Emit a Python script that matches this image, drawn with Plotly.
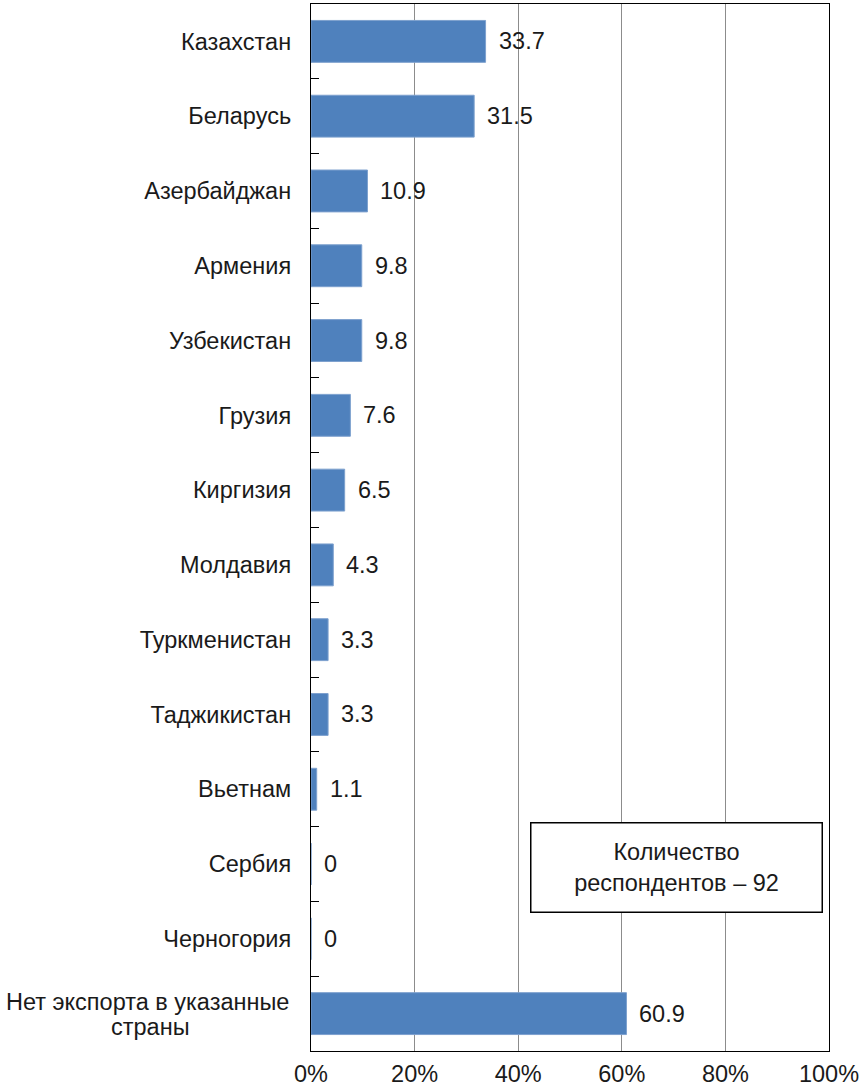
import plotly.graph_objects as go

# страны и доля респондентов (%)
countries = ["Казахстан", "Беларусь", "Азербайджан", "Армения", "Узбекистан",
             "Грузия", "Киргизия", "Молдавия", "Туркменистан", "Таджикистан",
             "Вьетнам", "Сербия", "Черногория", "Нет экспорта в указанные<br>страны"]
shares = [33.7, 31.5, 10.9, 9.8, 9.8, 7.6, 6.5, 4.3, 3.3, 3.3, 1.1, 0, 0, 60.9]
value_labels = ["33.7", "31.5", "10.9", "9.8", "9.8", "7.6", "6.5", "4.3",
                "3.3", "3.3", "1.1", "0", "0", "60.9"]
x_ticks = [0, 20, 40, 60, 80, 100]
x_tick_labels = ["0%", "20%", "40%", "60%", "80%", "100%"]
note = "Количество<br>респондентов – 92"

FONT = "Liberation Sans, Arial, sans-serif"
FS = 23.5

fig = go.Figure(go.Bar(
    x=shares, y=countries, orientation="h",
    marker=dict(color="#4F81BD", line=dict(color="#7DA0CE", width=1)),
    hoverinfo="skip",
))

# the long last label is centred with tight line spacing -> one annotation per line
ticktext = [c if "<br>" not in c else "" for c in countries]

annotations = []
for c, v, lab in zip(countries, shares, value_labels):
    annotations.append(dict(
        x=v, y=c, xref="x", yref="y", text=lab, showarrow=False,
        xanchor="left", xshift=11, font=dict(size=FS, color="#1a1a1a", family=FONT)))
    if "<br>" in c:
        first, second = c.split("<br>")
        annotations.append(dict(
            x=0, y=c, xref="paper", yref="y", text=first, showarrow=False,
            xanchor="right", xshift=-20, yshift=12,
            font=dict(size=FS, color="#1a1a1a", family=FONT)))
        # second line centred under the first one
        annotations.append(dict(
            x=0, y=c, xref="paper", yref="y", text=second, showarrow=False,
            xanchor="center", xshift=-20 - 141, yshift=-13,
            font=dict(size=FS, color="#1a1a1a", family=FONT)))

annotations.append(dict(
    x=70.5, y=0.1318, xref="x", yref="paper", text=note, showarrow=False,
    align="center", width=288, height=86, bordercolor="#000000", borderwidth=1.5,
    bgcolor="white", font=dict(size=FS, color="#1a1a1a", family=FONT)))

fig.update_layout(
    width=865, height=1088,
    margin=dict(l=311, r=36, t=4, b=37),
    paper_bgcolor="white", plot_bgcolor="white",
    font=dict(family=FONT, size=FS, color="#1a1a1a"),
    bargap=0.44, showlegend=False,
    annotations=annotations,
    xaxis=dict(
        range=[0, 100], tickvals=x_ticks, ticktext=x_tick_labels,
        showgrid=True, gridcolor="#8c8c8c", gridwidth=1,
        showline=True, linecolor="#000000", linewidth=1.3, mirror=True,
        zeroline=False, ticks="", ticklabelstandoff=2, automargin=False,
    ),
    yaxis=dict(
        type="category", autorange="reversed",
        tickvals=countries, ticktext=ticktext,
        tickson="boundaries", ticks="inside", ticklen=8, tickcolor="#000000",
        showgrid=False, showline=True, linecolor="#000000", linewidth=1.3,
        mirror=True, ticklabelstandoff=14, automargin=False,
    ),
)

fig.write_html("out.html", config={"displayModeBar": False},
               post_script="document.body.style.margin='0px';")
